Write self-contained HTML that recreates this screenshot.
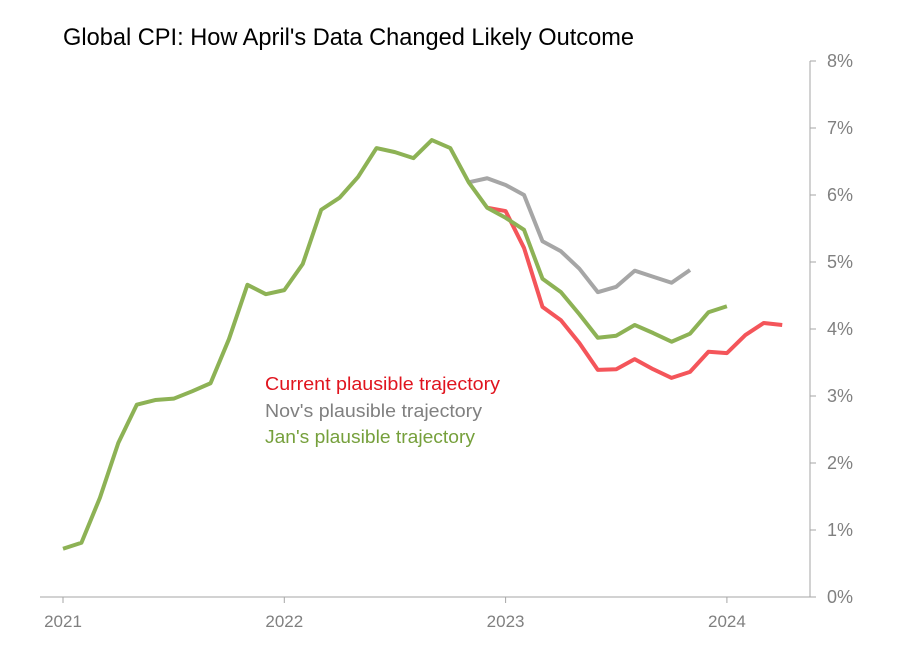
<!DOCTYPE html>
<html><head><meta charset="utf-8"><style>
body{margin:0;background:#fff;}
svg{display:block;font-family:"Liberation Sans",sans-serif;}
</style></head><body>
<svg id="chart" width="910" height="660">
<text x="63" y="45" font-size="24" textLength="571" lengthAdjust="spacingAndGlyphs" fill="#000">Global CPI: How April's Data Changed Likely Outcome</text>
<g id="axes"></g>
<g id="series"></g>
<text x="265" y="390" font-size="18" textLength="235" lengthAdjust="spacingAndGlyphs" fill="#e0141e">Current plausible trajectory</text>
<text x="265" y="417" font-size="18" textLength="217" lengthAdjust="spacingAndGlyphs" fill="#808080">Nov's plausible trajectory</text>
<text x="265" y="443" font-size="18" textLength="210" lengthAdjust="spacingAndGlyphs" fill="#76a03c">Jan's plausible trajectory</text>
</svg>
<script>
const yTicks=[0,1,2,3,4,5,6,7,8];
const xYears=["2021","2022","2023","2024"];
const janSeries=[0.72,0.81,1.48,2.3,2.87,2.94,2.96,3.07,3.19,3.85,4.66,4.52,4.58,4.97,5.78,5.96,6.27,6.70,6.64,6.55,6.82,6.70,6.19,5.81,5.66,5.48,4.75,4.55,4.22,3.87,3.90,4.06,3.94,3.81,3.93,4.25,4.34];
const novStart=22;
const novSeries=[6.19,6.25,6.15,6.0,5.31,5.16,4.90,4.55,4.63,4.87,4.78,4.69,4.88];
const curStart=23;
const curSeries=[5.81,5.76,5.21,4.33,4.13,3.79,3.39,3.40,3.55,3.40,3.27,3.36,3.66,3.64,3.91,4.09,4.06];
const NS="http://www.w3.org/2000/svg";
const x=m=>63+m*221.3/12;
const y=v=>597-v*67;
const axes=document.getElementById('axes'),ser=document.getElementById('series');
function mk(tag,attrs,parent){const e=document.createElementNS(NS,tag);for(const k in attrs)e.setAttribute(k,attrs[k]);parent.appendChild(e);return e;}
let l=mk('line',{x1:810,y1:y(8),x2:810,y2:y(0),stroke:'#a6a6a6','stroke-width':1},axes);


l=mk('line',{x1:40,y1:y(0),x2:810,y2:y(0),stroke:'#a6a6a6','stroke-width':1},axes);


yTicks.forEach(v=>{
 mk('line',{x1:810,y1:y(v),x2:816,y2:y(v),stroke:'#a6a6a6'},axes);
 const t=mk('text',{x:853,y:y(v)+6,'font-size':18,fill:'#808080','text-anchor':'end'},axes);
 t.textContent=v+'%';
 
 
});
xYears.forEach((s,i)=>{
 const xx=x(i*12);
 mk('line',{x1:xx,y1:y(0),x2:xx,y2:y(0)+6,stroke:'#a6a6a6'},axes);
 const t=mk('text',{x:xx,y:627,'font-size':17,fill:'#808080','text-anchor':'middle'},axes);
 t.textContent=s;
 
 
});
function line(data,start,color,name){
 const p=mk('polyline',{points:data.map((v,i)=>x(start+i)+','+y(v)).join(' '),fill:'none',stroke:color,'stroke-width':4,'stroke-linejoin':'round'},ser);
 
 
}
line(novSeries,novStart,'#a6a6a6','nov-trajectory-line');
line(curSeries,curStart,'#f4555a','current-trajectory-line');
line(janSeries,0,'#8db255','jan-trajectory-line');
</script>
</body></html>
